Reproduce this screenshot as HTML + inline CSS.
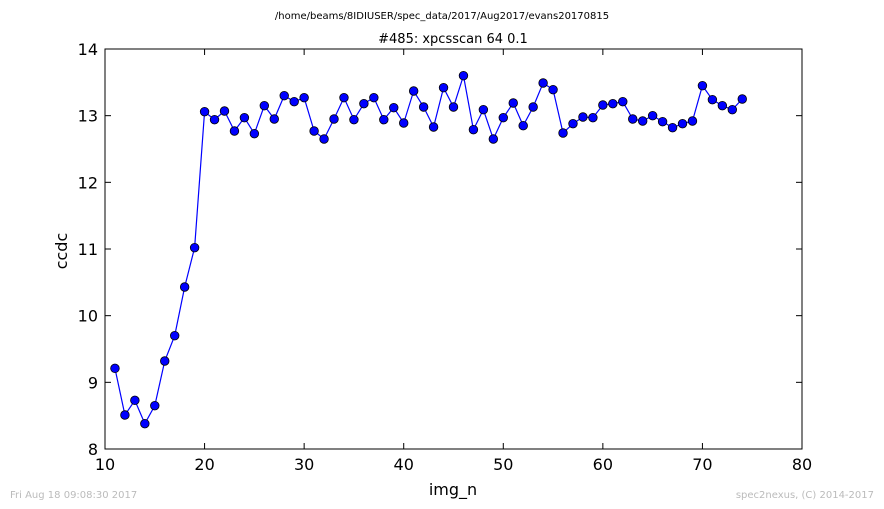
<!DOCTYPE html>
<html><head><meta charset="utf-8"><style>
body{margin:0;background:#fff;width:884px;height:509px;overflow:hidden}
svg{display:block;font-family:"DejaVu Sans","Liberation Sans",sans-serif}
</style></head><body>
<svg id="chart" width="884" height="509">
<text x="442" y="19" font-size="10" text-anchor="middle">/home/beams/8IDIUSER/spec_data/2017/Aug2017/evans20170815</text>
<text x="453" y="43" font-size="13" text-anchor="middle">#485: xpcsscan 64 0.1</text>
<rect x="105" y="49" width="697" height="400" fill="none" stroke="#000" stroke-width="1"/>
<g id="ticks"></g>
<polyline id="line" fill="none" stroke="#0000ff" stroke-width="1.2"/>
<g id="pts"></g>
<text x="453" y="495" font-size="16" text-anchor="middle">img_n</text>
<text x="67" y="251" font-size="16" text-anchor="middle" transform="rotate(-90 67 251)">ccdc</text>
<text x="10" y="498" font-size="10" fill="#bbb">Fri Aug 18 09:08:30 2017</text>
<text x="874" y="498" font-size="10" fill="#bbb" text-anchor="end">spec2nexus, (C) 2014-2017</text>
</svg>
<script>
const xs=[11,12,13,14,15,16,17,18,19,20,21,22,23,24,25,26,27,28,29,30,31,32,33,34,35,36,37,38,39,40,41,42,43,44,45,46,47,48,49,50,51,52,53,54,55,56,57,58,59,60,61,62,63,64,65,66,67,68,69,70,71,72,73,74];
const ys=[9.21,8.51,8.73,8.38,8.65,9.32,9.70,10.43,11.02,13.06,12.94,13.07,12.77,12.97,12.73,13.15,12.95,13.30,13.21,13.27,12.77,12.65,12.95,13.27,12.94,13.18,13.27,12.94,13.12,12.89,13.37,13.13,12.83,13.42,13.13,13.60,12.79,13.09,12.65,12.97,13.19,12.85,13.13,13.49,13.39,12.74,12.88,12.98,12.97,13.16,13.18,13.21,12.95,12.92,13.00,12.91,12.82,12.88,12.92,13.45,13.24,13.15,13.09,13.25];
const xTicks=[10,20,30,40,50,60,70,80];
const yTicks=[8,9,10,11,12,13,14];
const NS="http://www.w3.org/2000/svg";
const X=v=>105+(v-10)*(697/70);
const Y=v=>449-(v-8)*(400/6);
const tg=document.getElementById('ticks');
function mk(tag,a,parent){const e=document.createElementNS(NS,tag);for(const k in a)e.setAttribute(k,a[k]);parent.appendChild(e);return e;}
xTicks.forEach(t=>{
 const l1=mk('line',{x1:X(t),x2:X(t),y1:449,y2:443,stroke:'#000'},tg);
 
 
 const l2=mk('line',{x1:X(t),x2:X(t),y1:49,y2:55,stroke:'#000'},tg);
 
 
 const tx=mk('text',{x:X(t),y:470,'font-size':16,'text-anchor':'middle'},tg);tx.textContent=t;
 
 
});
yTicks.forEach(t=>{
 const l1=mk('line',{x1:105,x2:111,y1:Y(t),y2:Y(t),stroke:'#000'},tg);
 
 
 const l2=mk('line',{x1:796,x2:802,y1:Y(t),y2:Y(t),stroke:'#000'},tg);
 
 
 const tx=mk('text',{x:98,y:Y(t)+6,'font-size':16,'text-anchor':'end'},tg);tx.textContent=t;
 
 
});
document.getElementById('line').setAttribute('points',xs.map((x,i)=>X(x)+','+Y(ys[i])).join(' '));
const pg=document.getElementById('pts');
xs.forEach((x,i)=>{
 const c=mk('circle',{cx:X(x),cy:Y(ys[i]),r:4.3,fill:'#0000ff',stroke:'#000','stroke-width':0.8},pg);
 
 
});
</script>
</body></html>
